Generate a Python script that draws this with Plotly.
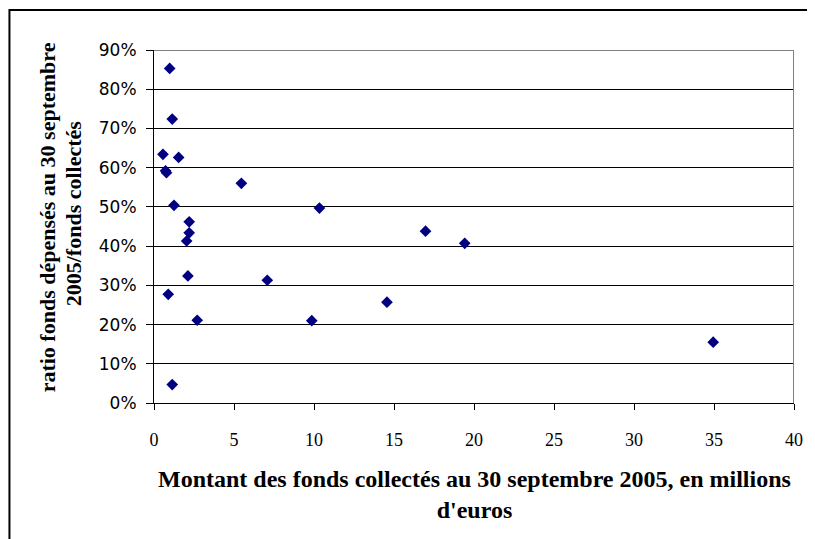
import plotly.graph_objects as go

# Data
fonds_collectes = [0.98, 1.14, 0.56, 1.54, 0.72, 0.78, 5.46, 1.25, 2.20, 2.20, 2.04,
                   2.12, 7.08, 0.89, 2.70, 1.14, 10.34, 16.97, 19.42, 14.56, 9.86, 34.95]
ratio_pct = [85.3, 72.4, 63.4, 62.6, 59.2, 58.7, 56.0, 50.4, 46.2, 43.4, 41.3,
             32.4, 31.3, 27.7, 21.1, 4.7, 49.7, 43.8, 40.7, 25.7, 21.0, 15.5]
ratio = [v / 100 for v in ratio_pct]

x_ticks = [0, 5, 10, 15, 20, 25, 30, 35, 40]
y_ticks = [0, 0.1, 0.2, 0.3, 0.4, 0.5, 0.6, 0.7, 0.8, 0.9]

# page body has an 8px margin: figure starts at (8, 8) on screen
OFF = 8
W, H = 815 - OFF, 539 - OFF
ML, MR, MT, MB = 154 - OFF, 19, 50 - OFF, 136
PW, PH = W - ML - MR, H - MT - MB


def px_x(px):
    return (px - OFF - ML) / PW


def px_y(py):
    return (H - MB - (py - OFF)) / PH


fig = go.Figure()
fig.add_trace(go.Scatter(
    x=fonds_collectes, y=ratio, mode="markers",
    marker=dict(symbol="diamond", size=9, color="#000080", line=dict(width=0)),
    hoverinfo="x+y", showlegend=False,
))

fig.update_layout(
    width=W, height=H,
    margin=dict(l=ML, r=MR, t=MT, b=MB, pad=0),
    paper_bgcolor="white", plot_bgcolor="white",
    xaxis=dict(
        range=[0, 40], tickvals=x_ticks, ticktext=[str(v) for v in x_ticks],
        showgrid=False, zeroline=False,
        showline=True, linecolor="black", linewidth=1,
        ticks="outside", ticklen=6, tickcolor="black", tickwidth=1,
        ticklabelstandoff=14,
        tickfont=dict(family="Liberation Serif", size=18, color="black"),
    ),
    yaxis=dict(
        range=[0, 0.9], tickvals=y_ticks, tickformat=".0%",
        showgrid=True, gridcolor="black", gridwidth=1, zeroline=False,
        showline=True, linecolor="black", linewidth=1,
        ticks="outside", ticklen=7, tickcolor="black", tickwidth=1,
        ticklabelstandoff=6,
        tickfont=dict(family="DejaVu Sans", size=17, color="black"),
    ),
    shapes=[
        # plot area border (top and right, gray)
        dict(type="line", xref="x", yref="y", x0=0, x1=40, y0=0.9, y1=0.9,
             line=dict(color="#808080", width=2)),
        dict(type="line", xref="x", yref="y", x0=40, x1=40, y0=0, y1=0.9,
             line=dict(color="#808080", width=2)),
        # outer chart border
        dict(type="rect", xref="paper", yref="paper",
             x0=px_x(9), x1=px_x(830), y0=px_y(550), y1=px_y(10),
             line=dict(color="black", width=2), fillcolor="rgba(0,0,0,0)"),
    ],
    annotations=[
        dict(xref="paper", yref="paper", x=0.5, y=px_y(494),
             xanchor="center", yanchor="middle", showarrow=False,
             text="<b>Montant des fonds collectés au 30 septembre 2005, en millions<br>d'euros</b>",
             font=dict(family="Liberation Serif", size=24, color="black")),
        dict(xref="paper", yref="paper", x=px_x(47), y=px_y(217),
             xanchor="center", yanchor="middle", showarrow=False, textangle=-90,
             text="<b>ratio fonds dépensés au 30 septembre</b>",
             font=dict(family="Liberation Serif", size=22, color="black")),
        dict(xref="paper", yref="paper", x=px_x(73), y=px_y(213),
             xanchor="center", yanchor="middle", showarrow=False, textangle=-90,
             text="<b>2005/fonds collectés</b>",
             font=dict(family="Liberation Serif", size=22, color="black")),
    ],
)

fig.write_html("out.html")
